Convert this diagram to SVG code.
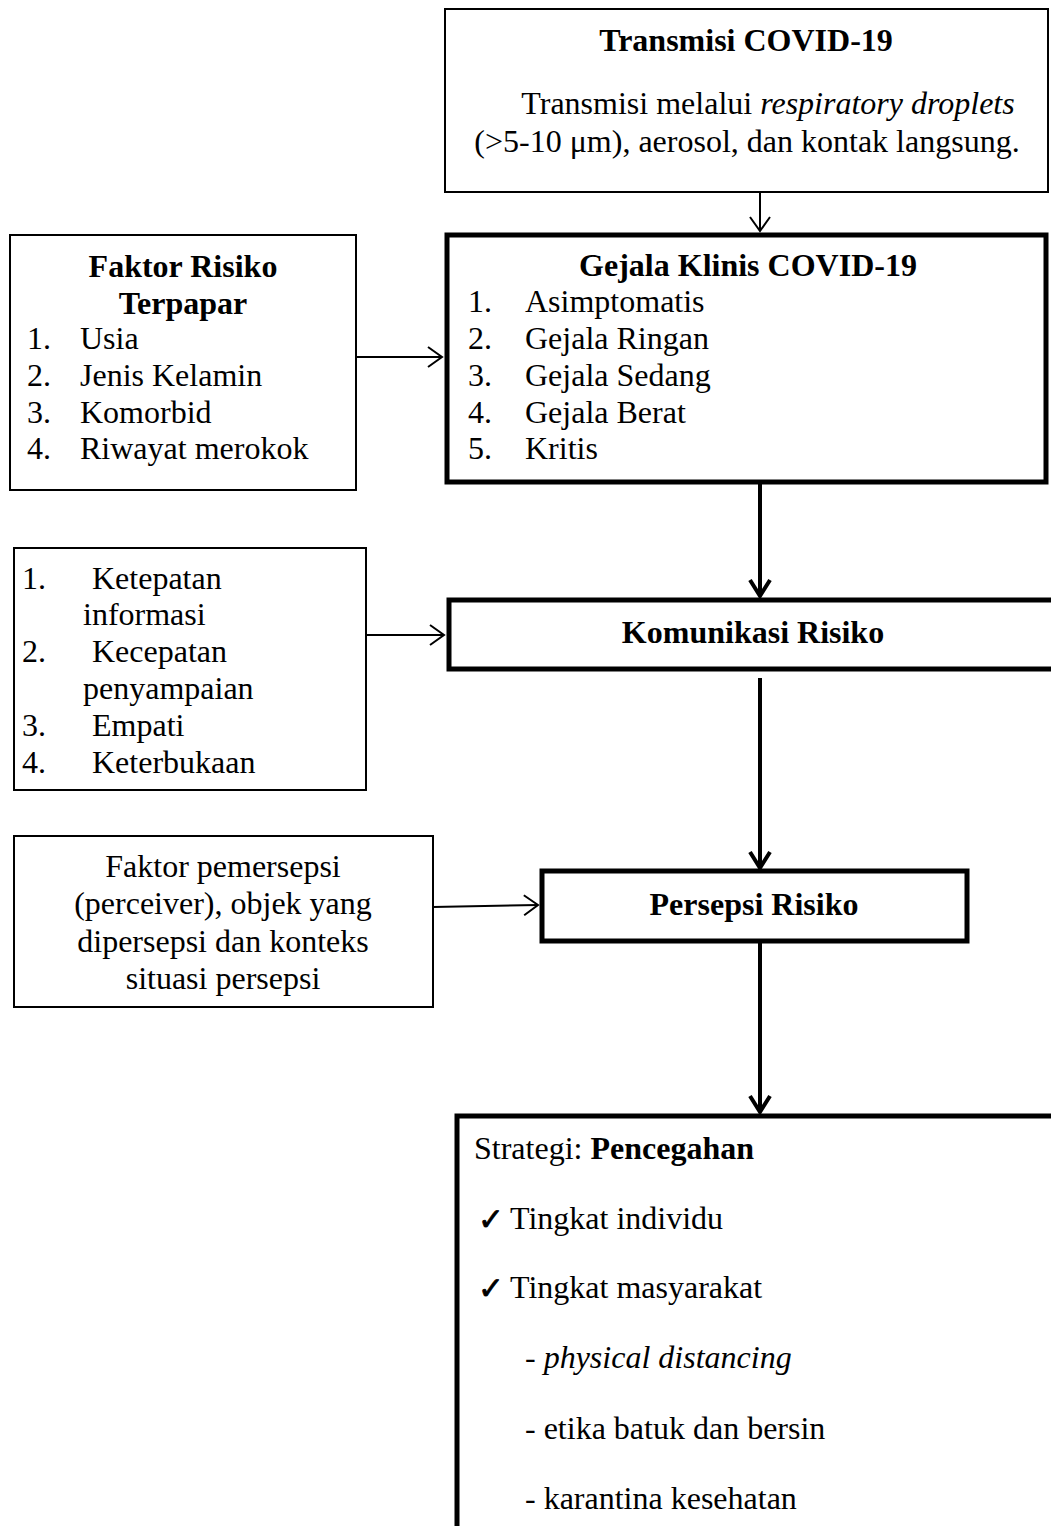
<svg xmlns="http://www.w3.org/2000/svg" width="1051" height="1526" viewBox="0 0 1051 1526">
<style>
text{font-family:"Liberation Serif","Times New Roman",serif;font-size:32px;fill:#000}
.b{font-weight:bold}
.i{font-style:italic}
.c{text-anchor:middle}
.thin{fill:#fff;stroke:#000;stroke-width:2}
.thick{fill:#fff;stroke:#000;stroke-width:5}
.l1{stroke:#000;stroke-width:2;fill:none}
.l2{stroke:#000;stroke-width:4;fill:none}
.ck{font-family:"DejaVu Sans",sans-serif;font-size:31px;stroke:#000;stroke-width:0.8}
</style>
<defs>
<marker id="a1" markerUnits="userSpaceOnUse" markerWidth="20" markerHeight="24" viewBox="-17 -12 20 24" refX="0" refY="0" orient="auto"><path d="M-14,-10 L0,0 L-14,10" fill="none" stroke="#000" stroke-width="2"/></marker>
<marker id="a2" markerUnits="userSpaceOnUse" markerWidth="24" markerHeight="28" viewBox="-20 -14 24 28" refX="0" refY="0" orient="auto"><path d="M-16,-10 L0,0 L-16,10" fill="none" stroke="#000" stroke-width="4"/></marker>
</defs>
<rect width="1051" height="1526" fill="#fff"/>

<g id="connectors">
<line class="l1" x1="760" y1="193" x2="760" y2="231" marker-end="url(#a1)"/>
<line class="l1" x1="356" y1="357" x2="442" y2="357" marker-end="url(#a1)"/>
<line class="l2" x1="760" y1="483" x2="760" y2="596" marker-end="url(#a2)"/>
<line class="l1" x1="366" y1="635" x2="444" y2="635" marker-end="url(#a1)"/>
<line class="l2" x1="760" y1="678" x2="760" y2="868" marker-end="url(#a2)"/>
<line class="l1" x1="433" y1="907" x2="538" y2="905" marker-end="url(#a1)"/>
<line class="l2" x1="760" y1="942" x2="760" y2="1112" marker-end="url(#a2)"/>
</g>

<g id="transmisi">
<rect class="thin" x="445" y="9" width="603" height="183"/>
<text class="b c" x="746" y="51">Transmisi COVID-19</text>
<text class="c" x="768" y="114">Transmisi melalui <tspan class="i">respiratory droplets</tspan></text>
<text class="c" x="747" y="152">(&gt;5-10 μm), aerosol, dan kontak langsung.</text>
</g>

<g id="gejala">
<rect class="thick" x="447" y="235" width="599" height="247"/>
<text class="b c" x="748" y="276">Gejala Klinis COVID-19</text>
<text x="468" y="312">1.</text><text x="525" y="312">Asimptomatis</text>
<text x="468" y="349">2.</text><text x="525" y="349">Gejala Ringan</text>
<text x="468" y="386">3.</text><text x="525" y="386">Gejala Sedang</text>
<text x="468" y="423">4.</text><text x="525" y="423">Gejala Berat</text>
<text x="468" y="459">5.</text><text x="525" y="459">Kritis</text>
</g>

<g id="faktor-risiko">
<rect class="thin" x="10" y="235" width="346" height="255"/>
<text class="b c" x="183" y="277">Faktor Risiko</text>
<text class="b c" x="183" y="314">Terpapar</text>
<text x="27" y="349">1.</text><text x="80" y="349">Usia</text>
<text x="27" y="386">2.</text><text x="80" y="386">Jenis Kelamin</text>
<text x="27" y="423">3.</text><text x="80" y="423">Komorbid</text>
<text x="27" y="459">4.</text><text x="80" y="459">Riwayat merokok</text>
</g>

<g id="komunikasi-faktor">
<rect class="thin" x="14" y="548" width="352" height="242"/>
<text x="22" y="589">1.</text><text x="92" y="589">Ketepatan</text>
<text x="83" y="625">informasi</text>
<text x="22" y="662">2.</text><text x="92" y="662">Kecepatan</text>
<text x="83" y="699">penyampaian</text>
<text x="22" y="736">3.</text><text x="92" y="736">Empati</text>
<text x="22" y="773">4.</text><text x="92" y="773">Keterbukaan</text>
</g>

<g id="komunikasi">
<rect class="thick" x="449" y="600" width="606" height="69"/>
<text class="b c" x="753" y="643">Komunikasi Risiko</text>
</g>

<g id="faktor-persepsi">
<rect class="thin" x="14" y="836" width="419" height="171"/>
<text class="c" x="223" y="877">Faktor pemersepsi</text>
<text class="c" x="223" y="914">(perceiver), objek yang</text>
<text class="c" x="223" y="952">dipersepsi dan konteks</text>
<text class="c" x="223" y="989">situasi persepsi</text>
</g>

<g id="persepsi">
<rect class="thick" x="542" y="871" width="425" height="70"/>
<text class="b c" x="754" y="915">Persepsi Risiko</text>
</g>

<g id="strategi">
<rect class="thick" x="457" y="1116" width="600" height="420"/>
<text x="474" y="1159">Strategi: <tspan class="b">Pencegahan</tspan></text>
<text class="ck" x="478" y="1230">✓</text><text x="510" y="1229">Tingkat individu</text>
<text class="ck" x="478" y="1299">✓</text><text x="510" y="1298">Tingkat masyarakat</text>
<text x="525" y="1368">- <tspan class="i">physical distancing</tspan></text>
<text x="525" y="1439">- etika batuk dan bersin</text>
<text x="525" y="1509">- karantina kesehatan</text>
</g>
</svg>
